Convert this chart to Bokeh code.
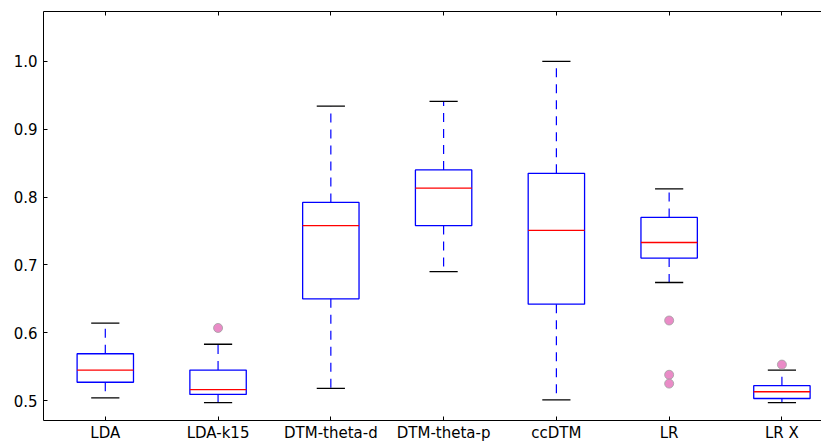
from bokeh.plotting import figure
from bokeh.models import Range1d, FixedTicker, LinearAxis, ColumnDataSource, NumeralTickFormatter
from bokeh.embed import file_html
from bokeh.resources import INLINE

categories = ["LDA", "LDA-k15", "DTM-theta-d", "DTM-theta-p", "ccDTM", "LR", "LR X"]
whisker_lo = [0.504, 0.497, 0.518, 0.690, 0.501, 0.674, 0.497]
q1 = [0.527, 0.509, 0.650, 0.758, 0.642, 0.710, 0.503]
median = [0.545, 0.516, 0.758, 0.813, 0.751, 0.733, 0.513]
q3 = [0.569, 0.545, 0.792, 0.840, 0.835, 0.770, 0.522]
whisker_hi = [0.614, 0.583, 0.934, 0.941, 1.000, 0.812, 0.545]
outlier_cat = ["LDA-k15", "LR", "LR", "LR", "LR X"]
outlier_val = [0.607, 0.618, 0.538, 0.525, 0.553]
y_ticks = [0.5, 0.6, 0.7, 0.8, 0.9, 1.0]

pos = list(range(1, len(categories) + 1))
pos_of = {c: i for c, i in zip(categories, pos)}
box_w = 0.5
cap_w = 0.25

src = ColumnDataSource(dict(
    x=pos, lo=whisker_lo, q1=q1, med=median, q3=q3, hi=whisker_hi,
    ml=[x - box_w / 2 for x in pos], mr=[x + box_w / 2 for x in pos],
    cl=[x - cap_w / 2 for x in pos], cr=[x + cap_w / 2 for x in pos],
))
osrc = ColumnDataSource(dict(x=[pos_of[c] for c in outlier_cat], y=outlier_val))

p = figure(width=821, height=444, output_backend="svg", toolbar_location=None,
           x_range=Range1d(0.452, 7.351), y_range=Range1d(0.4706, 1.0735),
           min_border_left=43, min_border_right=0, min_border_top=11, min_border_bottom=22)
p.outline_line_color = None
p.grid.visible = False
p.background_fill_color = "white"
p.border_fill_color = "white"

font = "DejaVu Sans"
fsize = "15px"

# whiskers (dashed blue), drawn from the box outward
p.segment(x0="x", y0="q3", x1="x", y1="hi", source=src, line_color="#0000ff",
          line_width=1.2, line_dash="9 7")
p.segment(x0="x", y0="q1", x1="x", y1="lo", source=src, line_color="#0000ff",
          line_width=1.2, line_dash="9 7")
# caps
p.segment(x0="cl", y0="hi", x1="cr", y1="hi", source=src, line_color="black", line_width=1.3)
p.segment(x0="cl", y0="lo", x1="cr", y1="lo", source=src, line_color="black", line_width=1.3)
# boxes
p.vbar(x="x", width=box_w, bottom="q1", top="q3", source=src, fill_color=None,
       line_color="#0000ff", line_width=1.3)
# medians
p.segment(x0="ml", y0="med", x1="mr", y1="med", source=src, line_color="#ff0000", line_width=1.3)
# outliers
p.scatter(x="x", y="y", source=osrc, size=9, fill_color="#ea8bc7", line_color="#a0a0a0",
          line_width=0.8)

# x axis (bottom)
xa = p.xaxis[0]
xa.ticker = FixedTicker(ticks=pos)
xa.major_label_overrides = {i: c for i, c in zip(pos, categories)}
xa.major_tick_in = 4
xa.major_tick_out = 0
xa.minor_tick_line_color = None
xa.axis_line_color = "black"
xa.major_tick_line_color = "black"
xa.major_label_text_font = font
xa.major_label_text_font_size = fsize
xa.major_label_text_color = "black"
xa.major_label_standoff = 3

# y axis (left)
ya = p.yaxis[0]
ya.ticker = FixedTicker(ticks=y_ticks)
ya.formatter = NumeralTickFormatter(format="0.0")
ya.major_tick_in = 4
ya.major_tick_out = 0
ya.minor_tick_line_color = None
ya.axis_line_color = "black"
ya.major_tick_line_color = "black"
ya.major_label_text_font = font
ya.major_label_text_font_size = fsize
ya.major_label_text_color = "black"
ya.major_label_standoff = 6

# top spine with inward ticks (no labels)
top = LinearAxis(ticker=FixedTicker(ticks=pos), major_tick_in=4, major_tick_out=0,
                 minor_tick_line_color=None, major_label_standoff=0,
                 major_label_overrides={i: "" for i in pos},
                 axis_line_color="black", major_tick_line_color="black")
p.add_layout(top, "above")

open("out.html", "w").write(file_html(p, INLINE))
